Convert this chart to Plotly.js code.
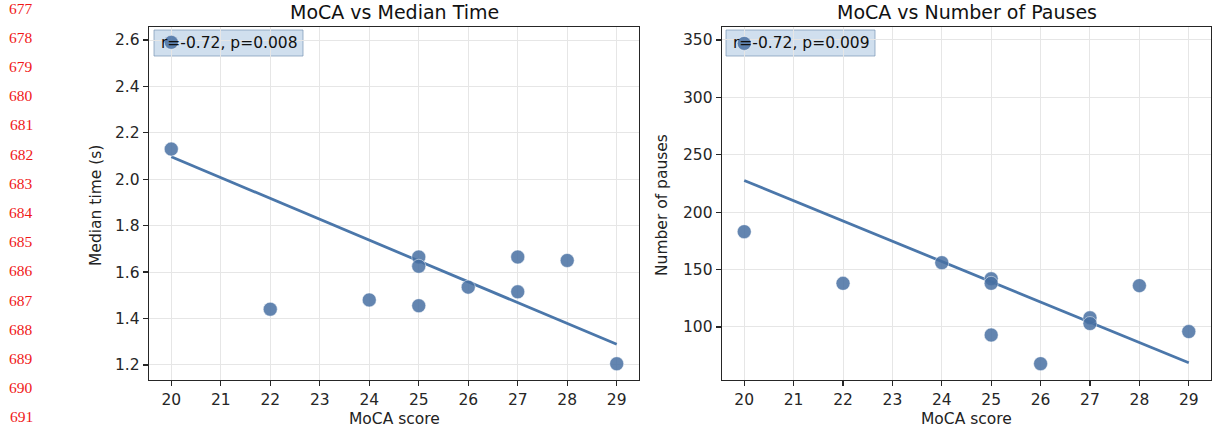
<!DOCTYPE html>
<html>
<head>
<meta charset="utf-8">
<script src="https://cdn.plot.ly/plotly-3.0.1.min.js"></script>
<style>
  html, body { margin: 0; padding: 0; background: #fff; }
  #chart { width: 1214px; height: 434px; }
</style>
</head>
<body>
<div id="chart"></div>
<script>
// ---- data ----
const mocaScore = [20, 20, 22, 24, 25, 25, 25, 26, 27, 27, 28, 29];
const medianTime = [2.59, 2.13, 1.44, 1.48, 1.665, 1.625, 1.455, 1.535, 1.665, 1.515, 1.65, 1.205];
const pausesScore = [20, 20, 22, 24, 25, 25, 25, 26, 27, 27, 28, 29];
const numPauses = [347, 183, 138, 156, 142, 138, 93, 68, 108, 103, 136, 96];
const xTicks = [20, 21, 22, 23, 24, 25, 26, 27, 28, 29];
const timeTicks = [1.2, 1.4, 1.6, 1.8, 2.0, 2.2, 2.4, 2.6];
const timeTickText = ["1.2", "1.4", "1.6", "1.8", "2.0", "2.2", "2.4", "2.6"];
const pauseTicks = [100, 150, 200, 250, 300, 350];
const statsText = ["r=-0.72, p=0.008", "r=-0.72, p=0.009"];
const titles = ["MoCA vs Median Time", "MoCA vs Number of Pauses"];
const yLabels = ["Median time (s)", "Number of pauses"];
const xLabel = "MoCA score";
const lineNumbers = [677, 678, 679, 680, 681, 682, 683, 684, 685, 686, 687, 688, 689, 690, 691];

// least squares fit
function fit(x, y) {
  const n = x.length;
  const mx = x.reduce((a, b) => a + b, 0) / n;
  const my = y.reduce((a, b) => a + b, 0) / n;
  let sxy = 0, sxx = 0;
  for (let i = 0; i < n; i++) { sxy += (x[i] - mx) * (y[i] - my); sxx += (x[i] - mx) ** 2; }
  const b = sxy / sxx, a = my - b * mx;
  const xmin = Math.min(...x), xmax = Math.max(...x);
  return { x: [xmin, xmax], y: [a + b * xmin, a + b * xmax] };
}

const W = 1214, H = 434;
const FONT = "DejaVu Sans, Liberation Sans, sans-serif";
const lineColor = "#4b77aa";
const markerColor = "rgba(72,112,162,0.85)";

const f1 = fit(mocaScore, medianTime);
const f2 = fit(pausesScore, numPauses);

const traces = [
  { x: f1.x, y: f1.y, mode: "lines", line: { color: lineColor, width: 2.8 }, xaxis: "x", yaxis: "y" },
  { x: mocaScore, y: medianTime, mode: "markers", xaxis: "x", yaxis: "y",
    marker: { size: 14, color: markerColor, line: { width: 0.8, color: "rgba(255,255,255,0.6)" } } },
  { x: f2.x, y: f2.y, mode: "lines", line: { color: lineColor, width: 2.8 }, xaxis: "x2", yaxis: "y2" },
  { x: pausesScore, y: numPauses, mode: "markers", xaxis: "x2", yaxis: "y2",
    marker: { size: 14, color: markerColor, line: { width: 0.8, color: "rgba(255,255,255,0.6)" } } }
];

const yTop = 1 - 27 / H, yBot = 1 - 380 / H;
const axCommon = {
  showgrid: true, gridcolor: "#e6e6e6", gridwidth: 1,
  showline: true, linecolor: "#262626", linewidth: 1.3, mirror: true,
  ticks: "outside", ticklen: 5, tickwidth: 1.2, tickcolor: "#262626",
  tickfont: { family: FONT, size: 15.5, color: "#262626" },
  zeroline: false, fixedrange: true
};

const layout = {
  width: W, height: H,
  margin: { l: 0, r: 0, t: 0, b: 0 },
  paper_bgcolor: "#fff", plot_bgcolor: "rgba(0,0,0,0)",
  showlegend: false, hovermode: false,
  xaxis: Object.assign({}, axCommon, { domain: [149 / W, 639 / W], range: [19.55, 29.45], tickvals: xTicks, anchor: "y" }),
  yaxis: Object.assign({}, axCommon, { domain: [yBot, yTop], range: [1.135, 2.656], tickvals: timeTicks, ticktext: timeTickText, anchor: "x" }),
  xaxis2: Object.assign({}, axCommon, { domain: [722 / W, 1211 / W], range: [19.55, 29.45], tickvals: xTicks, anchor: "y2" }),
  yaxis2: Object.assign({}, axCommon, { domain: [yBot, yTop], range: [53.8, 361.3], tickvals: pauseTicks, anchor: "x2" }),
  shapes: [],
  annotations: []
};

// stats boxes (in paper coordinates), drawn beneath the markers
const boxPx = [[154, 303], [726, 875]];
boxPx.forEach((b, i) => {
  layout.shapes.push({
    type: "rect", layer: "below",
    xref: "paper", yref: "paper",
    x0: b[0] / W, x1: b[1] / W,
    y0: 1 - 56 / H, y1: 1 - 30 / H,
    fillcolor: "rgba(176,202,226,0.6)", line: { color: "rgba(120,150,180,0.7)", width: 1 }
  });
  layout.annotations.push({
    xref: "paper", yref: "paper",
    x: (b[0] + 5) / W, y: 1 - 43 / H, xanchor: "left", yanchor: "middle",
    text: statsText[i], showarrow: false,
    font: { family: FONT, size: 15.5, color: "#111" }
  });
});

// titles
layout.annotations.push(
  { xref: "paper", yref: "paper", x: 394 / W, y: 1 - 12 / H, xanchor: "center", yanchor: "middle",
    text: titles[0], showarrow: false, font: { family: FONT, size: 19, color: "#111" } },
  { xref: "paper", yref: "paper", x: 966.5 / W, y: 1 - 12 / H, xanchor: "center", yanchor: "middle",
    text: titles[1], showarrow: false, font: { family: FONT, size: 19, color: "#111" } },
  { xref: "paper", yref: "paper", x: 394 / W, y: 1 - 419 / H, xanchor: "center", yanchor: "middle",
    text: xLabel, showarrow: false, font: { family: FONT, size: 15.5, color: "#222" } },
  { xref: "paper", yref: "paper", x: 966.5 / W, y: 1 - 419 / H, xanchor: "center", yanchor: "middle",
    text: xLabel, showarrow: false, font: { family: FONT, size: 15.5, color: "#222" } },
  { xref: "paper", yref: "paper", x: 96 / W, y: 1 - 205 / H, xanchor: "center", yanchor: "middle",
    text: yLabels[0], textangle: -90, showarrow: false, font: { family: FONT, size: 15.5, color: "#222" } },
  { xref: "paper", yref: "paper", x: 662 / W, y: 1 - 205 / H, xanchor: "center", yanchor: "middle",
    text: yLabels[1], textangle: -90, showarrow: false, font: { family: FONT, size: 15.5, color: "#222" } }
);

// red line numbers in the left margin
lineNumbers.forEach((n, i) => {
  layout.annotations.push({
    xref: "paper", yref: "paper", x: 21 / W, y: 1 - (8 + i * 29.2) / H,
    xanchor: "center", yanchor: "middle", text: String(n), showarrow: false,
    font: { family: "Liberation Serif, DejaVu Serif, serif", size: 15.5, color: "#f01818" }
  });
});

Plotly.newPlot("chart", traces, layout, { displayModeBar: false, staticPlot: true });
</script>
</body>
</html>
